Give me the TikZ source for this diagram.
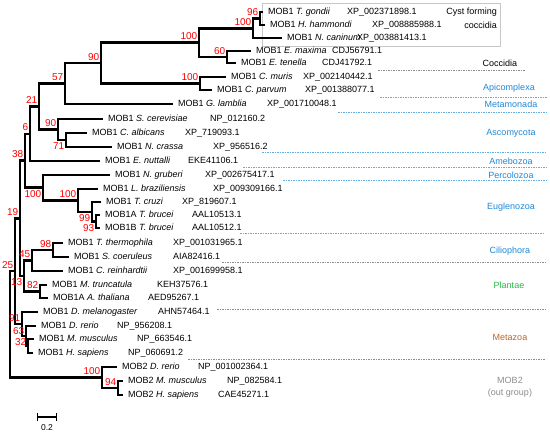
\documentclass[tikz,border=0pt]{standalone}
\usepackage{fontspec}
\setmainfont{Liberation Sans}
\usepackage{tikz}
\definecolor{cladeblue}{RGB}{30,136,214}
\definecolor{sepblue}{RGB}{95,172,230}
\definecolor{plantgreen}{RGB}{40,185,70}
\definecolor{metabrown}{RGB}{190,100,40}
\definecolor{outgray}{RGB}{140,140,140}

\begin{document}
\begin{tikzpicture}[x=1pt,y=-1pt,
  br/.style={line width=2.5pt,line join=miter},
  leaf/.style={anchor=west,inner xsep=5pt,inner ysep=0pt,text height=6.5pt,text depth=1.8pt,font=\fontsize{9}{10}\selectfont},
  acc/.style={anchor=west,inner sep=0pt,text height=6.5pt,text depth=1.8pt,font=\fontsize{9}{10}\selectfont},
  bs/.style={text=red,inner sep=0pt,font=\fontsize{10}{10}\selectfont},
  clade/.style={inner sep=0pt,font=\fontsize{9}{10}\selectfont},
  sepb/.style={sepblue,line width=0.8pt,dash pattern=on 1.5pt off 1pt},
  sepg/.style={black!45,line width=0.8pt,dash pattern=on 1.5pt off 1pt}]
\useasboundingbox (0,0) rectangle (550,437);
% box round the cyst forming coccidia
\draw[black!22,line width=0.6pt] (262,3) rectangle (500,46);
% leaves
\node[leaf] (gondii) at (263,12) {MOB1 \textit{T. gondii}};
\node[leaf] (hammondi) at (265,25) {MOB1 \textit{H. hammondi}};
\node[leaf] (caninum) at (282,38) {MOB1 \textit{N. caninum}};
\node[leaf] (maxima) at (251,51) {MOB1 \textit{E. maxima}};
\node[leaf] (tenella) at (236,63) {MOB1 \textit{E. tenella}};
\node[leaf] (muris) at (226,77) {MOB1 \textit{C. muris}};
\node[leaf] (parvum) at (212,90) {MOB1 \textit{C. parvum}};
\node[leaf] (lamblia) at (173,104) {MOB1 \textit{G. lamblia}};
\node[leaf] (cerevisiae) at (103,119) {MOB1 \textit{S. cerevisiae}};
\node[leaf] (albicans) at (87,133) {MOB1 \textit{C. albicans}};
\node[leaf] (crassa) at (112,147) {MOB1 \textit{N. crassa}};
\node[leaf] (nuttalli) at (100,161) {MOB1 \textit{E. nuttalli}};
\node[leaf] (gruberi) at (110,175) {MOB1 \textit{N. gruberi}};
\node[leaf] (braziliensis) at (98,189) {MOB1 \textit{L. braziliensis}};
\node[leaf] (cruzi) at (101,202) {MOB1 \textit{T. cruzi}};
\node[leaf] (bruceiA) at (100,215) {MOB1A \textit{T. brucei}};
\node[leaf] (bruceiB) at (100,228) {MOB1B \textit{T. brucei}};
\node[leaf] (thermophila) at (63,243) {MOB1 \textit{T. thermophila}};
\node[leaf] (coeruleus) at (69,257) {MOB1 \textit{S. coeruleus}};
\node[leaf] (reinhardtii) at (63,271) {MOB1 \textit{C. reinhardtii}};
\node[leaf] (truncatula) at (47,285) {MOB1 \textit{M. truncatula}};
\node[leaf] (thaliana) at (48,298) {MOB1A \textit{A. thaliana}};
\node[leaf] (melanogaster) at (38,312) {MOB1 \textit{D. melanogaster}};
\node[leaf] (drerio) at (36,326) {MOB1 \textit{D. rerio}};
\node[leaf] (mmusculus) at (34,339) {MOB1 \textit{M. musculus}};
\node[leaf] (hsapiens) at (33,353) {MOB1 \textit{H. sapiens}};
\node[leaf] (drerioB) at (117,367) {MOB2 \textit{D. rerio}};
\node[leaf] (mmusculusB) at (123,381) {MOB2 \textit{M. musculus}};
\node[leaf] (hsapiensB) at (123,395) {MOB2 \textit{H. sapiens}};
% accession numbers
\node[acc] (gondii-id) at (347,12) {XP\_002371898.1};
\node[acc] (hammondi-id) at (372,25) {XP\_008885988.1};
\node[acc] (caninum-id) at (357,38) {XP\_003881413.1};
\node[acc] (maxima-id) at (332,51) {CDJ56791.1};
\node[acc] (tenella-id) at (322,63) {CDJ41792.1};
\node[acc] (muris-id) at (303,77) {XP\_002140442.1};
\node[acc] (parvum-id) at (305,90) {XP\_001388077.1};
\node[acc] (lamblia-id) at (267,104) {XP\_001710048.1};
\node[acc] (cerevisiae-id) at (210,119) {NP\_012160.2};
\node[acc] (albicans-id) at (185,133) {XP\_719093.1};
\node[acc] (crassa-id) at (213,147) {XP\_956516.2};
\node[acc] (nuttalli-id) at (188,161) {EKE41106.1};
\node[acc] (gruberi-id) at (205,175) {XP\_002675417.1};
\node[acc] (braziliensis-id) at (213,189) {XP\_009309166.1};
\node[acc] (cruzi-id) at (182,202) {XP\_819607.1};
\node[acc] (bruceiA-id) at (192,215) {AAL10513.1};
\node[acc] (bruceiB-id) at (192,228) {AAL10512.1};
\node[acc] (thermophila-id) at (173,243) {XP\_001031965.1};
\node[acc] (coeruleus-id) at (173,257) {AIA82416.1};
\node[acc] (reinhardtii-id) at (173,271) {XP\_001699958.1};
\node[acc] (truncatula-id) at (157,285) {KEH37576.1};
\node[acc] (thaliana-id) at (148,298) {AED95267.1};
\node[acc] (melanogaster-id) at (158,312) {AHN57464.1};
\node[acc] (drerio-id) at (117,326) {NP\_956208.1};
\node[acc] (mmusculus-id) at (137,339) {NP\_663546.1};
\node[acc] (hsapiens-id) at (128,353) {NP\_060691.2};
\node[acc] (drerioB-id) at (198,367) {NP\_001002364.1};
\node[acc] (mmusculusB-id) at (227,381) {NP\_082584.1};
\node[acc] (hsapiensB-id) at (218,395) {CAE45271.1};
% inner nodes
\coordinate (n96) at (260,18.5);
\coordinate (n100a) at (253,28.25);
\coordinate (n60) at (227,57);
\coordinate (n100b) at (199,42.6);
\coordinate (n100c) at (200,83.5);
\coordinate (n90) at (101,63);
\coordinate (n57) at (65,83.5);
\coordinate (n71) at (66,140);
\coordinate (n90f) at (58,129.5);
\coordinate (n21) at (39,106.5);
\coordinate (n6) at (30,133.75);
\coordinate (n93) at (96,221.5);
\coordinate (n99) at (92,211.75);
\coordinate (n100l) at (78,200.4);
\coordinate (n100p) at (43,187.7);
\coordinate (n38) at (25,160.7);
\coordinate (n98) at (53,250);
\coordinate (n45) at (32,260.5);
\coordinate (n82) at (40,291.5);
\coordinate (n13) at (24,276);
\coordinate (n19) at (20,218.4);
\coordinate (n32) at (28,346);
\coordinate (n63) at (26,336);
\coordinate (n91) at (22,324);
\coordinate (n25) at (15,271.2);
\coordinate (n94) at (118,388);
\coordinate (n100m) at (102,377.5);
\coordinate (root) at (10,324);
% branches
\draw[br] (gondii.west) -| (n96) |- (hammondi.west);
\draw[br] (n96) -| (n100a) |- (caninum.west);
\draw[br] (maxima.west) -| (n60) |- (tenella.west);
\draw[br] (n100a) -| (n100b) |- (n60);
\draw[br] (muris.west) -| (n100c) |- (parvum.west);
\draw[br] (n100b) -| (n90) |- (n100c);
\draw[br] (n90) -| (n57) |- (lamblia.west);
\draw[br] (albicans.west) -| (n71) |- (crassa.west);
\draw[br] (cerevisiae.west) -| (n90f) |- (n71);
\draw[br] (n57) -| (n21) |- (n90f);
\draw[br] (n21) -| (n6) |- (nuttalli.west);
\draw[br] (bruceiA.west) -| (n93) |- (bruceiB.west);
\draw[br] (cruzi.west) -| (n99) |- (n93);
\draw[br] (braziliensis.west) -| (n100l) |- (n99);
\draw[br] (gruberi.west) -| (n100p) |- (n100l);
\draw[br] (n6) -| (n38) |- (n100p);
\draw[br] (thermophila.west) -| (n98) |- (coeruleus.west);
\draw[br] (n98) -| (n45) |- (reinhardtii.west);
\draw[br] (truncatula.west) -| (n82) |- (thaliana.west);
\draw[br] (n45) -| (n13) |- (n82);
\draw[br] (n38) -| (n19) |- (n13);
\draw[br] (mmusculus.west) -| (n32) |- (hsapiens.west);
\draw[br] (drerio.west) -| (n63) |- (n32);
\draw[br] (melanogaster.west) -| (n91) |- (n63);
\draw[br] (n19) -| (n25) |- (n91);
\draw[br] (mmusculusB.west) -| (n94) |- (hsapiensB.west);
\draw[br] (drerioB.west) -| (n100m) |- (n94);
\draw[br] (n25) -| (root) |- (n100m);
% bootstrap values
\node[bs,anchor=south east] (b96) at ([shift={(-1.5,-2.5)}]n96) {96};
\node[bs,anchor=south east] (b100a) at ([shift={(-1.5,-2.5)}]n100a) {100};
\node[bs,anchor=south east] (b60) at ([shift={(-1.5,-2.5)}]n60) {60};
\node[bs,anchor=south east] (b100b) at ([shift={(-1.5,-2.5)}]n100b) {100};
\node[bs,anchor=south east] (b100c) at ([shift={(-1.5,-2.5)}]n100c) {100};
\node[bs,anchor=south east] (b90) at ([shift={(-1.5,-2.5)}]n90) {90};
\node[bs,anchor=south east] (b57) at ([shift={(-1.5,-2.5)}]n57) {57};
\node[bs,anchor=north east] (b71) at ([shift={(-1.5,2.5)}]n71) {71};
\node[bs,anchor=south east] (b90f) at ([shift={(-1.5,-2.5)}]n90f) {90};
\node[bs,anchor=south east] (b21) at ([shift={(-1.5,-2.5)}]n21) {21};
\node[bs,anchor=south east] (b6) at ([shift={(-1.5,-2.5)}]n6) {6};
\node[bs,anchor=north east] (b99) at ([shift={(-1.5,2.5)}]n99) {99};
\node[bs,anchor=north east] (b93) at ([shift={(-1.5,2.5)}]n93) {93};
\node[bs,anchor=south east] (b100l) at ([shift={(-1.5,-2.5)}]n100l) {100};
\node[bs,anchor=north east] (b100p) at ([shift={(-1.5,2.5)}]n100p) {100};
\node[bs,anchor=south east] (b38) at ([shift={(-1.5,-2.5)}]n38) {38};
\node[bs,anchor=south east] (b98) at ([shift={(-1.5,-2.5)}]n98) {98};
\node[bs,anchor=south east] (b45) at ([shift={(-1.5,-2.5)}]n45) {45};
\node[bs,anchor=south east] (b82) at ([shift={(-1.5,-2.5)}]n82) {82};
\node[bs,anchor=north east] (b13) at ([shift={(-1.5,2.5)}]n13) {13};
\node[bs,anchor=south east] (b19) at ([shift={(-1.5,-2.5)}]n19) {19};
\node[bs,anchor=south east] (b32) at ([shift={(-1.5,-0.5)}]n32) {32};
\node[bs,anchor=south east] (b63) at ([shift={(-1.5,-1)}]n63) {63};
\node[bs,anchor=south east] (b91) at ([shift={(-1.5,-2.5)}]n91) {91};
\node[bs,anchor=south east] (b25) at ([shift={(-1.5,-2.5)}]n25) {25};
\node[bs,anchor=south east] (b94) at ([shift={(-1.5,-2.5)}]n94) {94};
\node[bs,anchor=south east] (b100m) at ([shift={(-1.5,-2.5)}]n100m) {100};
% clade names and separators
\node[clade,anchor=east] (cyst) at (497,12) {Cyst forming};
\node[clade,anchor=east] (cystb) at (497,25) {coccidia};
\node[clade] (coccidia) at (500,63) {Coccidia};
\node[clade,text=cladeblue] (apicomplexa) at (509,88) {Apicomplexa};
\node[clade,text=cladeblue] (metamonada) at (511,104) {Metamonada};
\node[clade,text=cladeblue] (ascomycota) at (511,133) {Ascomycota};
\node[clade,text=cladeblue] (amebozoa) at (511,161) {Amebozoa};
\node[clade,text=cladeblue] (percolozoa) at (511,175) {Percolozoa};
\node[clade,text=cladeblue] (euglenozoa) at (511,207) {Euglenozoa};
\node[clade,text=cladeblue] (ciliophora) at (510,251) {Ciliophora};
\node[clade,text=plantgreen] (plantae) at (509,285) {Plantae};
\node[clade,text=metabrown] (metazoa) at (510,337) {Metazoa};
\node[clade,text=outgray] (mobtwo) at (510,380) {MOB2};
\node[clade,text=outgray] (outgroup) at (510,393) {(out group)};
\draw[sepg] (378,70) -- (525,70);
\draw[sepb] (380,97) -- (547,97);
\draw[sepb] (338,112) -- (547,112);
\draw[sepb] (262,152) -- (547,152);
\draw[sepb] (243,167) -- (547,167);
\draw[sepb] (283,180) -- (547,180);
\draw[sepb] (240,233) -- (545,233);
\draw[sepg] (222,262) -- (545,262);
\draw[sepg] (217,309) -- (545,309);
\draw[sepg] (188,359) -- (545,359);
% scale bar
\coordinate (scaleL) at (37,417);
\coordinate (scaleR) at (57,417);
\draw[line width=1.2pt,|-|] (scaleL) -- (scaleR);
\node[inner sep=0pt,font=\fontsize{8.5}{10}\selectfont] (scaletext) at (47,428) {0.2};
\end{tikzpicture}
\end{document}
